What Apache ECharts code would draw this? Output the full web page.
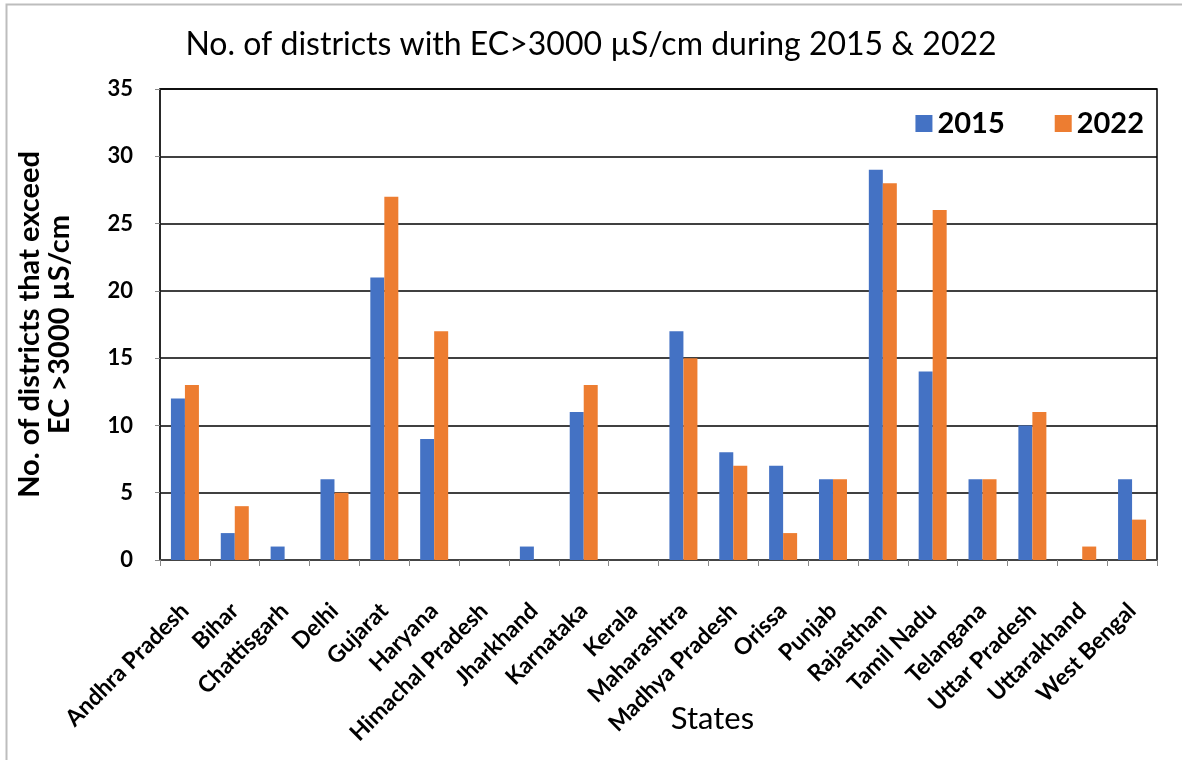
<!DOCTYPE html>
<html>
<head>
<meta charset="utf-8">
<script src="https://cdn.jsdelivr.net/npm/echarts@6/dist/echarts.min.js"></script>
<style>
	html, body { margin: 0; padding: 0; background: #fff; }
	#chart { width: 1182px; height: 760px; }
</style>
</head>
<body>
<div id="chart"></div>
<script>
var states = ['Andhra Pradesh', 'Bihar', 'Chattisgarh', 'Delhi', 'Gujarat', 'Haryana',
	'Himachal Pradesh', 'Jharkhand', 'Karnataka', 'Kerala', 'Maharashtra', 'Madhya Pradesh',
	'Orissa', 'Punjab', 'Rajasthan', 'Tamil Nadu', 'Telangana', 'Uttar Pradesh',
	'Uttarakhand', 'West Bengal'];
var years = ['2015', '2022'];
var values2015 = [12, 2, 1, 6, 21, 9, 0, 1, 11, 0, 17, 8, 7, 6, 29, 14, 6, 10, 0, 6];
var values2022 = [13, 4, 0, 5, 27, 17, 0, 0, 13, 0, 15, 7, 2, 6, 28, 26, 6, 11, 1, 3];

var font = 'Lato, "Open Sans", sans-serif';

var chart = echarts.init(document.getElementById('chart'));

var option = {
	animation: false,
	color: ['#4472C4', '#ED7D31'],
	textStyle: { fontFamily: font },
	title: {
		text: 'No. of districts with EC>3000 µS/cm during 2015 & 2022',
		left: 'center',
		top: 24,
		textStyle: {
			fontFamily: font,
			fontSize: 32,
			fontWeight: 'normal',
			color: '#000'
		}
	},
	graphic: [{
		type: 'rect',
		shape: { x: 6.5, y: 4.5, width: 1180, height: 760 },
		style: { fill: 'none', stroke: '#bdbdbd', lineWidth: 2 },
		silent: true
	}],
	legend: {
		data: years,
		right: 33,
		top: 104,
		itemWidth: 17,
		itemHeight: 17,
		itemGap: 50,
		icon: 'rect',
		textStyle: {
			fontFamily: font,
			fontSize: 29,
			fontWeight: 'bold',
			color: '#000'
		}
	},
	grid: {
		left: 160,
		right: 25,
		top: 89,
		bottom: 200,
		containLabel: false,
		outerBoundsMode: 'none',
		show: true,
		borderColor: '#000',
		borderWidth: 1.5
	},
	xAxis: {
		type: 'category',
		data: states,
		name: 'States',
		nameLocation: 'middle',
		nameGap: 143,
		nameMoveOverlap: false,
		nameTextStyle: {
			fontFamily: font,
			fontSize: 31,
			color: '#000',
			padding: [0, 0, 0, 108]
		},
		axisLine: { lineStyle: { color: '#444', width: 2 } },
		axisTick: { show: true, length: 6, lineStyle: { color: '#888' } },
		axisLabel: {
			rotate: 45,
			interval: 0,
			margin: 47,
			fontFamily: font,
			fontSize: 23,
			fontWeight: 'bold',
			color: '#000'
		}
	},
	yAxis: {
		type: 'value',
		min: 0,
		max: 35,
		interval: 5,
		name: 'No. of districts that exceed\nEC >3000 µS/cm',
		nameLocation: 'middle',
		nameGap: 85,
		nameTextStyle: {
			fontFamily: font,
			fontSize: 29,
			fontWeight: 'bold',
			lineHeight: 30,
			color: '#000'
		},
		axisLine: { show: true, lineStyle: { color: '#222', width: 1.5 } },
		axisTick: { show: true, length: 5, lineStyle: { color: '#888' } },
		splitLine: { lineStyle: { color: '#000', width: 1.5 } },
		axisLabel: {
			margin: 27,
			fontFamily: font,
			fontSize: 22,
			fontWeight: 'bold',
			color: '#000'
		}
	},
	series: [{
		name: years[0],
		type: 'bar',
		data: values2015,
		barWidth: 14,
		barGap: '0%'
	}, {
		name: years[1],
		type: 'bar',
		data: values2022,
		barWidth: 14,
		barGap: '0%'
	}]
};

chart.setOption(option);
</script>
</body>
</html>
